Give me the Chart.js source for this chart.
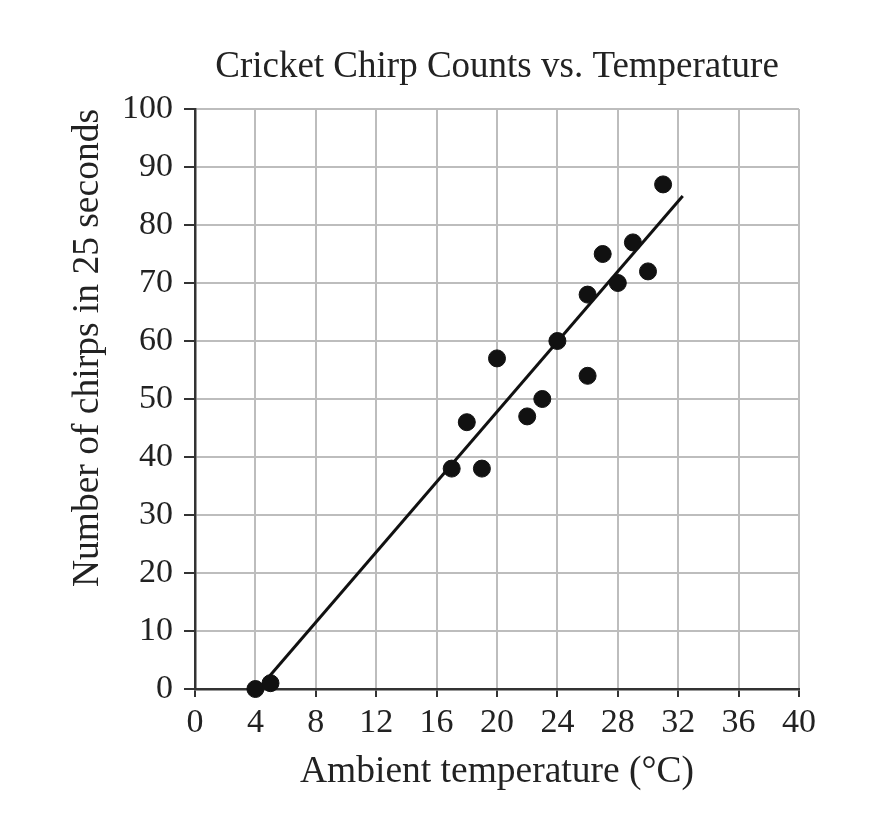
<!DOCTYPE html>
<html>
<head>
<meta charset="utf-8">
<script src="https://cdn.jsdelivr.net/npm/chart.js@4"></script>
<style>
  html, body { margin: 0; padding: 0; background: #fff; }
  #wrap { width: 882px; height: 814px; position: relative; }
</style>
</head>
<body>
<div id="wrap"><canvas id="c"></canvas></div>
<script>
const chartTitle = "Cricket Chirp Counts vs. Temperature";
const xAxisTitle = "Ambient temperature (°C)";
const yAxisTitle = "Number of chirps in 25 seconds";

const temperatures = [4, 5, 17, 18, 19, 20, 22, 23, 24, 26, 26, 27, 28, 29, 30, 31];
const chirpCounts  = [0, 1, 38, 46, 38, 57, 47, 50, 60, 54, 68, 75, 70, 77, 72, 87];

const fitLineX = [4.2, 32.3];
const fitLineY = [0, 85];

const xTicks = [0, 4, 8, 12, 16, 20, 24, 28, 32, 36, 40];
const yTicks = [0, 10, 20, 30, 40, 50, 60, 70, 80, 90, 100];

const points = temperatures.map((t, i) => ({ x: t, y: chirpCounts[i] }));
const fitPoints = fitLineX.map((t, i) => ({ x: t, y: fitLineY[i] }));

const serif = "'Liberation Serif', 'Times New Roman', serif";
const ink = '#222';

new Chart(document.getElementById('c'), {
  type: 'scatter',
  data: {
    datasets: [
      {
        label: 'Observations',
        data: points,
        backgroundColor: '#111',
        borderColor: '#111',
        pointRadius: 8.5,
        pointHoverRadius: 8.5,
        clip: false,
        order: 1
      },
      {
        label: 'Best fit',
        data: fitPoints,
        showLine: true,
        borderColor: '#111',
        borderWidth: 3,
        pointRadius: 0,
        fill: false,
        clip: false,
        order: 2
      }
    ]
  },
  options: {
    responsive: true,
    maintainAspectRatio: false,
    animation: false,
    devicePixelRatio: 1,
    layout: { padding: { left: 0, right: 83, top: 0, bottom: 0 } },
    plugins: {
      legend: { display: false },
      tooltip: { enabled: false },
      title: {
        display: true,
        text: chartTitle,
        fullSize: false,
        color: ink,
        font: { family: serif, size: 37, weight: 'normal' },
        padding: { top: 45, bottom: 19.6 }
      }
    },
    scales: {
      x: {
        type: 'linear',
        min: 0,
        max: 40,
        afterBuildTicks: (scale) => { scale.ticks = xTicks.map(v => ({ value: v })); },
        afterFit: (scale) => { scale.height = 125; },
        ticks: {
          color: ink,
          font: { family: serif, size: 34 },
          padding: 6,
          maxRotation: 0,
          autoSkip: false
        },
        grid: {
          color: '#bdbdbd',
          lineWidth: 2,
          tickColor: '#333',
          tickLength: 8,
          tickWidth: 2
        },
        border: { color: '#333', width: 2.5 },
        title: {
          display: true,
          text: xAxisTitle,
          color: ink,
          font: { family: serif, size: 37.5 },
          padding: { top: 0, bottom: 19.5 }
        }
      },
      y: {
        type: 'linear',
        min: 0,
        max: 100,
        afterBuildTicks: (scale) => { scale.ticks = yTicks.map(v => ({ value: v })); },
        afterFit: (scale) => { scale.width = 195; },
        ticks: {
          color: ink,
          font: { family: serif, size: 34 },
          padding: 11,
          autoSkip: false
        },
        grid: {
          color: '#bdbdbd',
          lineWidth: 2,
          tickColor: '#333',
          tickLength: 11,
          tickWidth: 2
        },
        border: { color: '#333', width: 2.5 },
        title: {
          display: true,
          text: yAxisTitle,
          align: 'end',
          color: ink,
          font: { family: serif, size: 37.5 },
          padding: { top: 65.5, bottom: 0 }
        }
      }
    }
  }
});
</script>
</body>
</html>
